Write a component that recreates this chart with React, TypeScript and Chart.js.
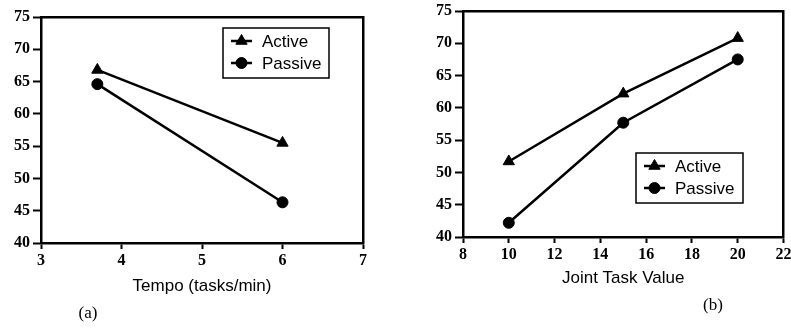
import React, { useEffect, useRef } from 'react';
import { Chart, registerables } from 'chart.js';
import { drawPoint } from 'chart.js/helpers';

Chart.register(...registerables);

// ---- data ----
const seriesNames = ['Active', 'Passive'];
const pointStyles = ['triangle', 'circle'];

const tempoX = [3.7, 6];
const tempoActive = [66.8, 55.5];
const tempoPassive = [64.6, 46.3];
const tempoTitle = 'Tempo (tasks/min)';
const tempoRange = { min: 3, max: 7, step: 1 };

const jointX = [10, 15, 20];
const jointActive = [51.7, 62.2, 70.8];
const jointPassive = [42.2, 57.7, 67.5];
const jointTitle = 'Joint Task Value';
const jointRange = { min: 8, max: 22, step: 2 };

const yRange = { min: 40, max: 75, step: 5 };
const panelLabels = ['(a)', '(b)'];

const SERIF = '"Liberation Serif", "Times New Roman", serif';
const SANS = '"Liberation Sans", Arial, Helvetica, sans-serif';
const BLACK = '#000';

const boxLegend = {
  id: 'boxLegend',
  afterDatasetsDraw(chart: any, _args: any, opts: any) {
    const { ctx } = chart;
    const { left, top, width, height, rowY, lineX0, lineX1, textX } = opts;
    ctx.save();
    ctx.fillStyle = '#fff';
    ctx.fillRect(left, top, width, height);
    ctx.strokeStyle = BLACK;
    ctx.lineWidth = 1.5;
    ctx.strokeRect(left, top, width, height);
    chart.data.datasets.forEach((ds: any, i: number) => {
      const y = top + rowY[i];
      ctx.strokeStyle = ds.borderColor;
      ctx.lineWidth = ds.borderWidth;
      ctx.beginPath();
      ctx.moveTo(left + lineX0, y);
      ctx.lineTo(left + lineX1, y);
      ctx.stroke();
      ctx.fillStyle = ds.backgroundColor;
      ctx.lineWidth = 1;
      drawPoint(ctx, { pointStyle: ds.pointStyle, radius: ds.pointRadius, rotation: 0, borderWidth: 1 } as any, left + (lineX0 + lineX1) / 2, y);
      ctx.fillStyle = BLACK;
      ctx.font = `17px ${SANS}`;
      ctx.textBaseline = 'middle';
      ctx.textAlign = 'left';
      ctx.fillText(ds.label, left + textX, y + 1);
    });
    ctx.restore();
  },
};

type Panel = {
  width: number;
  height: number;
  plot: { left: number; top: number; right: number; bottom: number };
  xs: number[];
  series: number[][];
  xRange: { min: number; max: number; step: number };
  title: string;
  titleCenterY: number;
  legend: { left: number; top: number; width: number; height: number };
};

function makeChart(canvas: HTMLCanvasElement, p: Panel) {
  const tickFont = { family: SERIF, size: 16, weight: 'bold' as const };
  const titleSize = 17;
  const titleLH = titleSize * 1.2;
  const zeroPad = (s: any) => {
    s.paddingLeft = 0;
    s.paddingRight = 0;
    s.paddingTop = 0;
    s.paddingBottom = 0;
  };
  return new Chart(canvas, {
    type: 'line',
    data: {
      datasets: p.series.map((vals, i) => ({
        label: seriesNames[i],
        data: p.xs.map((x, j) => ({ x, y: vals[j] })),
        borderColor: BLACK,
        backgroundColor: BLACK,
        borderWidth: 2.5,
        pointStyle: pointStyles[i] as any,
        pointRadius: i === 0 ? 6.5 : 5.5,
        pointBorderWidth: 1,
        tension: 0,
      })),
    },
    options: {
      responsive: false,
      animation: false,
      devicePixelRatio: 1,
      layout: { padding: { left: 0, top: p.plot.top, right: p.width - p.plot.right, bottom: 0 } },
      plugins: {
        legend: { display: false },
        tooltip: { enabled: false },
        boxLegend: {
          ...p.legend,
          rowY: [13, 35],
          lineX0: 8,
          lineX1: 29,
          textX: 39,
        },
      } as any,
      scales: {
        x: {
          type: 'linear',
          position: 'bottom',
          min: p.xRange.min,
          max: p.xRange.max,
          ticks: { stepSize: p.xRange.step, font: tickFont, color: BLACK, padding: 2, maxRotation: 0, autoSkip: false },
          grid: { display: true, drawOnChartArea: false, drawTicks: true, tickLength: 6, tickWidth: 2, tickColor: BLACK },
          border: { display: true, color: BLACK, width: 2.5 },
          title: {
            display: true,
            text: p.title,
            color: BLACK,
            font: { family: SANS, size: titleSize },
            padding: { top: 0, bottom: p.height - p.titleCenterY - titleLH / 2 },
          },
          afterFit: (s: any) => {
            s.height = p.height - p.plot.bottom;
            zeroPad(s);
          },
        },
        y: {
          type: 'linear',
          position: 'left',
          min: yRange.min,
          max: yRange.max,
          ticks: { stepSize: yRange.step, font: tickFont, color: BLACK, padding: 3 },
          grid: { display: true, drawOnChartArea: false, drawTicks: true, tickLength: 8, tickWidth: 2, tickColor: BLACK },
          border: { display: true, color: BLACK, width: 2.5 },
          afterFit: (s: any) => {
            s.width = p.plot.left;
            zeroPad(s);
          },
        },
        x2: {
          type: 'linear',
          position: 'top',
          min: p.xRange.min,
          max: p.xRange.max,
          ticks: { display: false },
          grid: { display: false },
          border: { display: true, color: BLACK, width: 2.5 },
          afterFit: (s: any) => {
            s.height = 0;
            zeroPad(s);
          },
        },
        y2: {
          type: 'linear',
          position: 'right',
          min: yRange.min,
          max: yRange.max,
          ticks: { display: false },
          grid: { display: false },
          border: { display: true, color: BLACK, width: 2.5 },
          afterFit: (s: any) => {
            s.width = 0;
            zeroPad(s);
          },
        },
      } as any,
    },
    plugins: [boxLegend],
  });
}

const panelA: Panel = {
  width: 398,
  height: 330,
  plot: { left: 41, top: 17, right: 363, bottom: 243 },
  xs: tempoX,
  series: [tempoActive, tempoPassive],
  xRange: tempoRange,
  title: tempoTitle,
  titleCenterY: 286,
  legend: { left: 223, top: 28, width: 106, height: 50 },
};

const panelB: Panel = {
  width: 391,
  height: 330,
  plot: { left: 63, top: 11, right: 390, bottom: 237 },
  xs: jointX,
  series: [jointActive, jointPassive],
  xRange: jointRange,
  title: jointTitle,
  titleCenterY: 278,
  legend: { left: 236, top: 153, width: 107, height: 50 },
};

function ChartPanel({ panel, left }: { panel: Panel; left: number }) {
  const ref = useRef<HTMLCanvasElement>(null);
  useEffect(() => {
    if (!ref.current) return;
    const c = makeChart(ref.current, panel);
    return () => c.destroy();
  }, [panel]);
  return (
    <canvas
      ref={ref}
      width={panel.width}
      height={panel.height}
      style={{ position: 'absolute', left, top: 0, width: panel.width, height: panel.height }}
    />
  );
}

export default function App() {
  const labelStyle = (x: number, y: number): React.CSSProperties => ({
    position: 'absolute',
    left: x,
    top: y,
    transform: 'translate(-50%, -50%)',
    fontFamily: SERIF,
    fontSize: 17,
    color: BLACK,
    whiteSpace: 'nowrap',
  });
  return (
    <div style={{ position: 'absolute', left: 0, top: 0, width: 791, height: 330, background: '#fff', overflow: 'hidden' }}>
      <ChartPanel panel={panelA} left={0} />
      <ChartPanel panel={panelB} left={400} />
      <div style={labelStyle(88, 313)}>{panelLabels[0]}</div>
      <div style={labelStyle(713, 305)}>{panelLabels[1]}</div>
    </div>
  );
}
